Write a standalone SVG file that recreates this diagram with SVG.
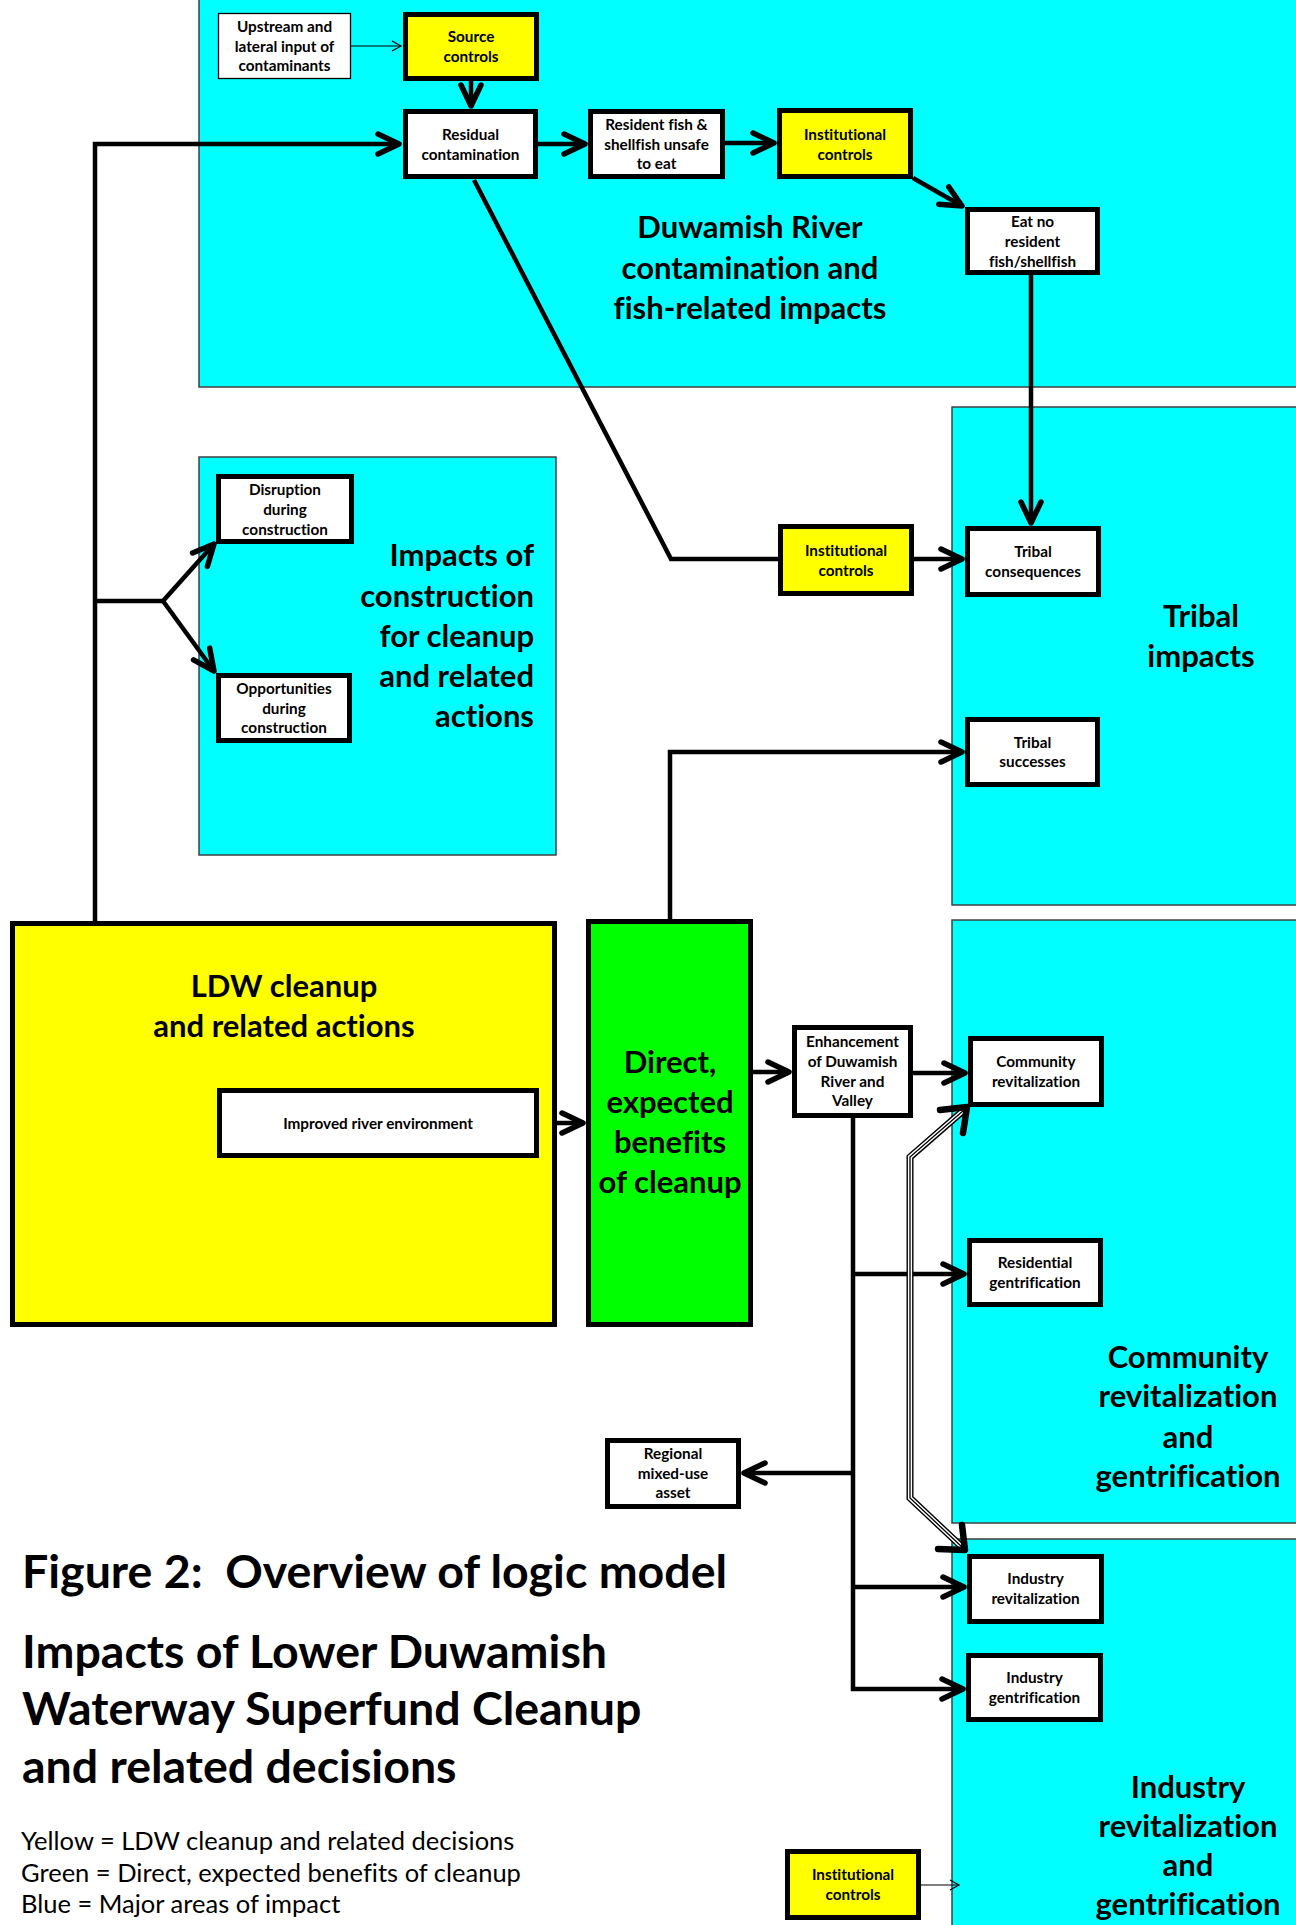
<svg xmlns="http://www.w3.org/2000/svg" width="1296" height="1925" viewBox="0 0 1296 1925">
<style>
.panel{fill:#00FFFF;stroke:#404040;stroke-width:1.5}
.box{fill:#FFFFFF;stroke:#000;stroke-width:5}
.ybox{fill:#FFFF00;stroke:#000;stroke-width:5}
.gbox{fill:#00FF00;stroke:#000;stroke-width:5}
.thinbox{fill:#FFFFFF;stroke:#000;stroke-width:1.3}
text{font-variant-ligatures:none}
.n{font-family:Lato,'Liberation Sans',sans-serif;font-weight:bold;font-size:15.3px;text-anchor:middle;fill:#000}
.t{font-family:Lato,'Liberation Sans',sans-serif;font-weight:bold;font-size:31px;text-anchor:middle;fill:#000}
.tr{font-family:Lato,'Liberation Sans',sans-serif;font-weight:bold;font-size:31px;text-anchor:end;fill:#000}
.fig{font-family:Lato,'Liberation Sans',sans-serif;font-weight:bold;font-size:46.5px;fill:#000;white-space:pre}
.leg{font-family:Lato,'Liberation Sans',sans-serif;font-size:25.5px;fill:#000}
.c{fill:none;stroke:#000;stroke-width:4.5;stroke-linejoin:miter}
.ct{fill:none;stroke:#000;stroke-width:1.2}
</style>
<defs>
<marker id="ah" markerUnits="userSpaceOnUse" orient="auto" overflow="visible" refX="0" refY="0" markerWidth="1" markerHeight="1">
<path d="M-21,-10 L0,0 L-21,10" fill="none" stroke="#000" stroke-width="5.5" stroke-linecap="round" stroke-linejoin="round"/>
</marker>
<marker id="aht" markerUnits="userSpaceOnUse" orient="auto" overflow="visible" refX="0" refY="0" markerWidth="1" markerHeight="1">
<path d="M-9,-5 L0,0 L-9,5" fill="none" stroke="#000" stroke-width="1.2"/>
</marker>
</defs>
<rect width="1296" height="1925" fill="#FFFFFF"/>

<g id="panel-river">
<rect class="panel" x="199" y="-5" width="1102" height="392"/>
<text class="t" x="750" y="238">Duwamish River</text>
<text class="t" x="750" y="279">contamination and</text>
<text class="t" x="750" y="319">fish-related impacts</text>
</g>
<g id="panel-construction">
<rect class="panel" x="199" y="457" width="357" height="398"/>
<text class="tr" x="534" y="566">Impacts of</text>
<text class="tr" x="534" y="607">construction</text>
<text class="tr" x="534" y="647">for cleanup</text>
<text class="tr" x="534" y="687">and related</text>
<text class="tr" x="534" y="727">actions</text>
</g>
<g id="panel-tribal">
<rect class="panel" x="952" y="407" width="349" height="498"/>
<text class="t" x="1201" y="627">Tribal</text>
<text class="t" x="1201" y="667">impacts</text>
</g>
<g id="panel-community">
<rect class="panel" x="952" y="920" width="349" height="603"/>
<text class="t" x="1188" y="1368">Community</text>
<text class="t" x="1188" y="1407">revitalization</text>
<text class="t" x="1188" y="1448">and</text>
<text class="t" x="1188" y="1487">gentrification</text>
</g>
<g id="panel-industry">
<rect class="panel" x="952" y="1539" width="349" height="400"/>
<text class="t" x="1188" y="1798">Industry</text>
<text class="t" x="1188" y="1837">revitalization</text>
<text class="t" x="1188" y="1876">and</text>
<text class="t" x="1188" y="1915">gentrification</text>
</g>

<g id="connectors">
<path class="ct" d="M351,46 H401" marker-end="url(#aht)"/>
<path class="c" d="M471,81 V106" marker-end="url(#ah)"/>
<path class="c" d="M95,921 V144 H399" marker-end="url(#ah)"/>
<path class="c" d="M95,601 H163"/>
<path class="c" d="M163,601 L214,544" marker-end="url(#ah)"/>
<path class="c" d="M163,601 L214,671" marker-end="url(#ah)"/>
<path class="c" d="M538,144 H585" marker-end="url(#ah)"/>
<path class="c" d="M725,143 H774" marker-end="url(#ah)"/>
<path class="c" d="M913,178 L962,206" marker-end="url(#ah)"/>
<path class="c" d="M1031,275 V523" marker-end="url(#ah)"/>
<path class="c" d="M474,180 L671,559 H778"/>
<path class="c" d="M914,559 H962" marker-end="url(#ah)"/>
<path class="c" d="M670,919 V752 H962" marker-end="url(#ah)"/>
<path class="c" d="M539,1123 H583" marker-end="url(#ah)"/>
<path class="c" d="M753,1072 H789" marker-end="url(#ah)"/>
<path class="c" d="M913,1073 H965" marker-end="url(#ah)"/>
<path class="c" d="M853,1118 V1689 H963" marker-end="url(#ah)"/>
<path class="c" d="M853,1274 H964" stroke-width="3.5" marker-end="url(#ah)"/>
<path class="c" d="M853,1473 H744" marker-end="url(#ah)"/>
<path class="c" d="M853,1587 H964" marker-end="url(#ah)"/>
<g id="triple-line">
<path d="M964,1110 L910,1157 V1498 L962,1547" fill="none" stroke="#000" stroke-width="7"/>
<path d="M964,1110 L910,1157 V1498 L962,1547" fill="none" stroke="#FFF" stroke-width="4.2"/>
<path d="M964,1110 L910,1157 V1498 L962,1547" fill="none" stroke="#000" stroke-width="1.3"/>
<path d="M940,1110 L967,1107 L963,1133" fill="none" stroke="#000" stroke-width="6.5" stroke-linecap="round" stroke-linejoin="round"/>
<path d="M938,1549 L965,1550 L962,1525" fill="none" stroke="#000" stroke-width="6.5" stroke-linecap="round" stroke-linejoin="round"/>
</g>
<path class="ct" d="M921,1885 H959" marker-end="url(#aht)"/>
</g>

<g id="node-upstream">
<rect class="thinbox" x="218.5" y="13.5" width="132" height="65"/>
<text class="n" x="284.5" y="32">Upstream and</text>
<text class="n" x="284.5" y="52">lateral input of</text>
<text class="n" x="284.5" y="71">contaminants</text>
</g>
<g id="node-source">
<rect class="ybox" x="405.5" y="14.5" width="131" height="64"/>
<text class="n" x="471" y="42">Source</text>
<text class="n" x="471" y="62">controls</text>
</g>
<g id="node-residual">
<rect class="box" x="405.5" y="111.5" width="130" height="65"/>
<text class="n" x="470.5" y="140">Residual</text>
<text class="n" x="470.5" y="160">contamination</text>
</g>
<g id="node-resident">
<rect class="box" x="590.5" y="111.5" width="132" height="65"/>
<text class="n" x="656.5" y="130">Resident fish &amp;</text>
<text class="n" x="656.5" y="150">shellfish unsafe</text>
<text class="n" x="656.5" y="169">to eat</text>
</g>
<g id="node-inst-top">
<rect class="ybox" x="779.5" y="110.5" width="131" height="66"/>
<text class="n" x="845" y="140">Institutional</text>
<text class="n" x="845" y="160">controls</text>
</g>
<g id="node-eatno">
<rect class="box" x="967.5" y="209.5" width="130" height="63"/>
<text class="n" x="1032.5" y="227">Eat no</text>
<text class="n" x="1032.5" y="247">resident</text>
<text class="n" x="1032.5" y="267">fish/shellfish</text>
</g>
<g id="node-disruption">
<rect class="box" x="218.5" y="476.5" width="133" height="65"/>
<text class="n" x="285" y="495">Disruption</text>
<text class="n" x="285" y="515">during</text>
<text class="n" x="285" y="535">construction</text>
</g>
<g id="node-opportunities">
<rect class="box" x="218.5" y="675.5" width="131" height="65"/>
<text class="n" x="284" y="694">Opportunities</text>
<text class="n" x="284" y="714">during</text>
<text class="n" x="284" y="733">construction</text>
</g>
<g id="node-inst-mid">
<rect class="ybox" x="780.5" y="526.5" width="131" height="67"/>
<text class="n" x="846" y="556">Institutional</text>
<text class="n" x="846" y="576">controls</text>
</g>
<g id="node-tribal-cons">
<rect class="box" x="967.5" y="528.5" width="131" height="66"/>
<text class="n" x="1033" y="557">Tribal</text>
<text class="n" x="1033" y="577">consequences</text>
</g>
<g id="node-tribal-succ">
<rect class="box" x="967.5" y="719.5" width="130" height="65"/>
<text class="n" x="1032.5" y="748">Tribal</text>
<text class="n" x="1032.5" y="767">successes</text>
</g>
<g id="node-ldw">
<rect class="ybox" x="12.5" y="923.5" width="542" height="401"/>
<text class="t" x="284" y="997">LDW cleanup</text>
<text class="t" x="284" y="1037">and related actions</text>
</g>
<g id="node-improved">
<rect class="box" x="219.5" y="1090.5" width="317" height="65"/>
<text class="n" x="378" y="1129">Improved river environment</text>
</g>
<g id="node-direct">
<rect class="gbox" x="588.5" y="921.5" width="162" height="403"/>
<text class="t" x="670" y="1073">Direct,</text>
<text class="t" x="670" y="1113">expected</text>
<text class="t" x="670" y="1153">benefits</text>
<text class="t" x="670" y="1193">of cleanup</text>
</g>
<g id="node-enhancement">
<rect class="box" x="794.5" y="1027.5" width="116" height="88"/>
<text class="n" x="852.5" y="1047">Enhancement</text>
<text class="n" x="852.5" y="1067">of Duwamish</text>
<text class="n" x="852.5" y="1087">River and</text>
<text class="n" x="852.5" y="1106">Valley</text>
</g>
<g id="node-community-rev">
<rect class="box" x="970.5" y="1038.5" width="131" height="66"/>
<text class="n" x="1036" y="1067">Community</text>
<text class="n" x="1036" y="1087">revitalization</text>
</g>
<g id="node-residential">
<rect class="box" x="969.5" y="1240.5" width="131" height="64"/>
<text class="n" x="1035" y="1268">Residential</text>
<text class="n" x="1035" y="1288">gentrification</text>
</g>
<g id="node-regional">
<rect class="box" x="607.5" y="1440.5" width="131" height="66"/>
<text class="n" x="673" y="1459">Regional</text>
<text class="n" x="673" y="1479">mixed-use</text>
<text class="n" x="673" y="1498">asset</text>
</g>
<g id="node-industry-rev">
<rect class="box" x="969.5" y="1556.5" width="132" height="65"/>
<text class="n" x="1035.5" y="1584">Industry</text>
<text class="n" x="1035.5" y="1604">revitalization</text>
</g>
<g id="node-industry-gent">
<rect class="box" x="968.5" y="1655.5" width="132" height="64"/>
<text class="n" x="1034.5" y="1683">Industry</text>
<text class="n" x="1034.5" y="1703">gentrification</text>
</g>
<g id="node-inst-bottom">
<rect class="ybox" x="787.5" y="1851.5" width="131" height="66"/>
<text class="n" x="853" y="1880">Institutional</text>
<text class="n" x="853" y="1900">controls</text>
</g>

<g id="caption">
<text class="fig" x="22" y="1588">Figure 2:  Overview of logic model</text>
<text class="fig" x="22" y="1668">Impacts of Lower Duwamish</text>
<text class="fig" x="22" y="1725">Waterway Superfund Cleanup</text>
<text class="fig" x="22" y="1783">and related decisions</text>
<text class="leg" x="21" y="1850">Yellow = LDW cleanup and related decisions</text>
<text class="leg" x="21" y="1882">Green = Direct, expected benefits of cleanup</text>
<text class="leg" x="21" y="1913">Blue = Major areas of impact</text>
</g>
</svg>
